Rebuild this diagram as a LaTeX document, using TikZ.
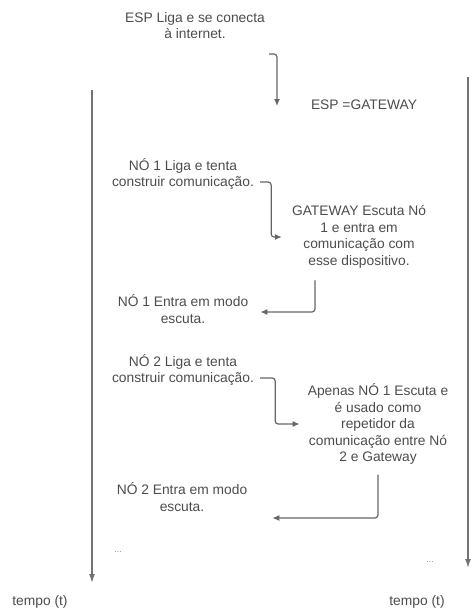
\documentclass[tikz,border=0pt]{standalone}
\usepackage{fontspec}
\setmainfont{Liberation Sans}
\usepackage{xcolor}
\usetikzlibrary{arrows.meta}

\begin{document}
\begin{tikzpicture}[
    x=1pt, y=-1pt,
    font=\fontsize{13.8}{16.5}\selectfont,
    txt/.style={
        align=center,
        text=black!70,
        inner sep=2pt
    },
    dots/.style={text=black!45, font=\fontsize{9}{9}\selectfont},
    arrow/.style={-{Latex[length=7pt,width=6pt]}, draw=black!60, line width=1.2pt, rounded corners=3pt},
    axis/.style={-{Latex[length=9pt,width=6pt]}, draw=black!55, line width=1.4pt}
]
\useasboundingbox (0,0) rectangle (471,610);

\node[txt] (esp) at (195,25.5) {ESP Liga e se conecta\\à internet.};
\node[txt] (espgw) at (364,105) {ESP =GATEWAY};
\node[txt] (n1liga) at (183,174) {NÓ 1 Liga e tenta\\construir comunicação.};
\node[txt] (gw) at (359,237) {GATEWAY Escuta Nó\\1 e entra em\\comunicação com\\esse dispositivo.};
\node[txt] (n1entra) at (183,309) {NÓ 1 Entra em modo\\escuta.};
\node[txt] (n2liga) at (183,370) {NÓ 2 Liga e tenta\\construir comunicação.};
\node[txt] (ap) at (378,424) {Apenas NÓ 1 Escuta e\\é usado como\\repetidor da\\comunicação entre Nó\\2 e Gateway};
\node[txt] (n2entra) at (182,497) {NÓ 2 Entra em modo\\escuta.};
\node[dots] (dotsl) at (118,552) {...};
\node[dots] (dotsr) at (430,562) {...};
\node[txt] (tempol) at (40,602) {tempo (t)};
\node[txt] (tempor) at (417,602) {tempo (t)};

% time axes
\coordinate (ltop) at (92,90);
\coordinate (lend) at (92,583);
\coordinate (rtop) at (468,77);
\coordinate (rend) at (468,568);
\draw[axis] (ltop) -- (lend);
\draw[axis] (rtop) -- (rend);

\draw[arrow] ([shift={(2,13)}]esp.south east) -- ++(8,0) -- ++(0,52);
\draw[arrow] ([shift={(4,8)}]n1liga.east) -- ++(11,0) |- ([xshift=-8pt]gw.west);
\draw[arrow] ([shift={(-44,10)}]gw.south) |- ([shift={(10,3)}]n1entra.east);
\draw[arrow] ([shift={(4,8)}]n2liga.east) -- ++(15,0) |- ([xshift=-6pt]ap.west);
\draw[arrow] ([yshift=-8pt]ap.south) |- ([shift={(23,21)}]n2entra.east);
\end{tikzpicture}
\end{document}
